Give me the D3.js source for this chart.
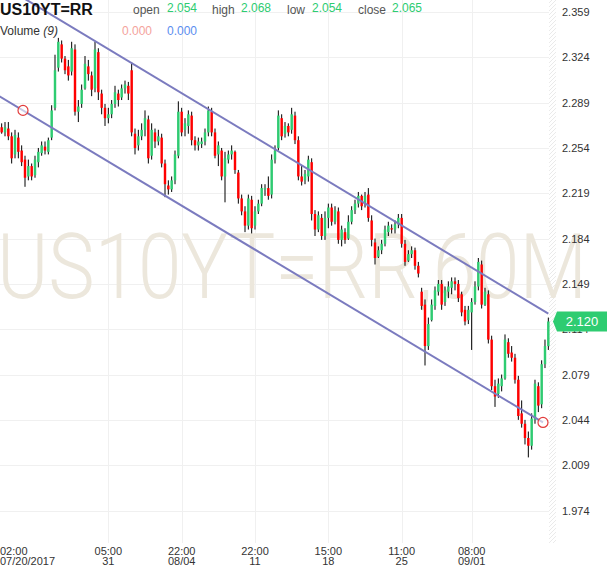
<!DOCTYPE html>
<html>
<head>
<meta charset="utf-8">
<script src="https://cdn.jsdelivr.net/npm/d3@7"></script>
<style>
  body { margin: 0; background: #fff; }
  text { font-family: "Liberation Sans", Arial, sans-serif; }
</style>
</head>
<body>
<svg id="chart" width="610" height="567"></svg>
<script>
// hourly bars
const open = [2.270,2.266,2.269,2.263,2.249,2.262,2.252,2.245,2.232,2.240,2.233,2.243,2.250,2.255,2.251,2.262,2.285,2.316,2.334,2.323,
  2.317,2.313,2.330,2.282,2.288,2.300,2.317,2.310,2.300,2.328,2.296,2.285,2.277,2.280,2.288,2.296,2.293,2.300,2.302,2.314,
  2.265,2.256,2.263,2.268,2.276,2.248,2.266,2.259,2.262,2.242,2.225,2.222,2.229,2.248,2.282,2.268,2.271,2.279,2.260,2.256,
  2.257,2.259,2.266,2.282,2.266,2.249,2.252,2.232,2.245,2.249,2.251,2.235,2.215,2.205,2.194,2.214,2.194,2.205,2.211,2.222,
  2.223,2.218,2.245,2.254,2.277,2.265,2.271,2.268,2.279,2.260,2.232,2.229,2.232,2.243,2.203,2.191,2.200,2.186,2.200,2.208,
  2.197,2.205,2.183,2.189,2.184,2.197,2.206,2.211,2.217,2.211,2.218,2.198,2.181,2.170,2.175,2.180,2.189,2.192,2.191,2.195,
  2.200,2.180,2.167,2.172,2.175,2.163,2.143,2.133,2.101,2.121,2.132,2.143,2.149,2.135,2.143,2.146,2.151,2.149,2.141,2.129,
  2.121,2.127,2.135,2.147,2.164,2.133,2.141,2.106,2.070,2.064,2.070,2.076,2.104,2.096,2.092,2.075,2.049,2.041,2.030,2.024,
  2.044,2.070,2.056,2.087,2.101];
const high = [2.273,2.274,2.274,2.266,2.268,2.266,2.256,2.248,2.245,2.242,2.248,2.254,2.259,2.259,2.262,2.287,2.326,2.339,2.337,2.325,
  2.322,2.336,2.334,2.291,2.303,2.325,2.322,2.313,2.336,2.331,2.299,2.288,2.285,2.291,2.302,2.299,2.303,2.306,2.305,2.320,
  2.269,2.268,2.273,2.283,2.279,2.273,2.269,2.268,2.265,2.245,2.229,2.232,2.252,2.290,2.285,2.277,2.283,2.282,2.263,2.262,
  2.262,2.269,2.286,2.285,2.269,2.259,2.254,2.251,2.252,2.256,2.252,2.237,2.218,2.209,2.218,2.217,2.209,2.214,2.226,2.226,
  2.232,2.249,2.256,2.283,2.280,2.274,2.273,2.285,2.282,2.263,2.240,2.237,2.248,2.246,2.206,2.205,2.203,2.205,2.211,2.211,
  2.209,2.208,2.194,2.192,2.202,2.209,2.214,2.220,2.218,2.220,2.223,2.202,2.184,2.178,2.183,2.194,2.197,2.195,2.198,2.203,
  2.203,2.183,2.175,2.178,2.177,2.166,2.146,2.137,2.123,2.137,2.147,2.152,2.152,2.147,2.151,2.154,2.154,2.152,2.143,2.132,
  2.132,2.138,2.151,2.169,2.167,2.146,2.144,2.109,2.075,2.076,2.079,2.110,2.107,2.101,2.095,2.078,2.059,2.044,2.035,2.049,
  2.075,2.073,2.090,2.106,2.123];
const low = [2.265,2.263,2.260,2.242,2.246,2.246,2.240,2.224,2.229,2.229,2.231,2.239,2.248,2.249,2.249,2.260,2.283,2.313,2.320,2.311,
  2.306,2.310,2.279,2.274,2.285,2.299,2.306,2.294,2.297,2.291,2.280,2.271,2.273,2.277,2.285,2.286,2.291,2.296,2.291,2.263,
  2.249,2.252,2.260,2.263,2.242,2.245,2.254,2.256,2.239,2.216,2.218,2.220,2.226,2.246,2.263,2.263,2.265,2.256,2.252,2.252,
  2.254,2.256,2.263,2.263,2.246,2.240,2.229,2.212,2.242,2.245,2.234,2.211,2.202,2.189,2.191,2.188,2.191,2.203,2.209,2.217,
  2.214,2.215,2.242,2.252,2.260,2.262,2.263,2.265,2.257,2.229,2.225,2.226,2.228,2.198,2.186,2.189,2.183,2.183,2.192,2.194,
  2.195,2.180,2.178,2.180,2.183,2.195,2.203,2.208,2.206,2.208,2.197,2.178,2.164,2.169,2.172,2.178,2.186,2.188,2.188,2.192,
  2.177,2.163,2.166,2.169,2.160,2.154,2.129,2.086,2.098,2.120,2.129,2.140,2.129,2.132,2.138,2.141,2.144,2.135,2.124,2.117,
  2.118,2.098,2.133,2.144,2.130,2.132,2.103,2.067,2.054,2.061,2.066,2.075,2.092,2.089,2.072,2.044,2.038,2.025,2.015,2.021,
  2.041,2.050,2.053,2.084,2.098];
const close = [2.266,2.270,2.263,2.246,2.264,2.251,2.243,2.231,2.240,2.232,2.245,2.251,2.256,2.252,2.260,2.283,2.314,2.336,2.323,2.314,
  2.310,2.331,2.282,2.286,2.299,2.319,2.311,2.299,2.330,2.297,2.285,2.277,2.280,2.288,2.297,2.291,2.300,2.303,2.296,2.266,
  2.254,2.263,2.268,2.277,2.246,2.268,2.259,2.263,2.242,2.226,2.222,2.229,2.249,2.282,2.266,2.273,2.280,2.260,2.256,2.259,
  2.259,2.266,2.283,2.266,2.248,2.256,2.232,2.246,2.249,2.252,2.237,2.215,2.205,2.194,2.215,2.192,2.205,2.211,2.223,2.223,
  2.217,2.245,2.252,2.279,2.263,2.271,2.266,2.280,2.260,2.232,2.228,2.234,2.245,2.203,2.191,2.202,2.186,2.200,2.208,2.197,
  2.206,2.183,2.191,2.183,2.197,2.206,2.211,2.217,2.209,2.217,2.200,2.183,2.169,2.175,2.180,2.191,2.194,2.191,2.195,2.200,
  2.180,2.166,2.172,2.175,2.163,2.157,2.132,2.101,2.118,2.133,2.144,2.149,2.133,2.144,2.147,2.151,2.149,2.138,2.127,2.120,
  2.129,2.135,2.147,2.166,2.133,2.143,2.106,2.070,2.062,2.072,2.076,2.106,2.095,2.092,2.075,2.047,2.041,2.030,2.024,2.045,
  2.072,2.055,2.087,2.101,2.120];

const priceTicks = [2.359, 2.324, 2.289, 2.254, 2.219, 2.184, 2.149, 2.114, 2.079, 2.044, 2.009, 1.974];
const timeTickIdx = [0, 32, 54, 76, 98, 120, 141];
const timeTickTop = ["02:00", "05:00", "22:00", "22:00", "15:00", "11:00", "08:00"];
const timeTickBottom = ["07/20/2017", "31", "08/04", "11", "18", "25", "09/01"];

// trend channel anchors: [bar position, price]
const channelLow = [[6.4, 2.283], [162.4, 2.042]];
const channelHigh = [[6.4, 2.370], [164, 2.126]];

const headerLabels = ["open", "high", "low", "close"];
const headerValues = [2.054, 2.068, 2.054, 2.065];
const lastPrice = 2.120;

const width = 610, height = 567;
const plotW = 549, plotH = 543;
const up = "#2ecc71", down = "#ff0000";

const svg = d3.select("#chart");
const n = close.length;
const bars = d3.range(n).map(i => ({ i, o: open[i], h: high[i], l: low[i], c: close[i] }));

const x = d3.scaleBand().domain(d3.range(n)).range([0, 550]);
const xPos = d3.scaleLinear().domain([0, n]).range([0, 550]);
const y = d3.scaleLinear().domain([1.974, 2.359]).range([510.5, 12]);

// hatch strip next to price axis
const defs = svg.append("defs");
defs.append("pattern")
  .attr("id", "hatch").attr("width", 4).attr("height", 4)
  .attr("patternUnits", "userSpaceOnUse")
  .append("path").attr("d", "M0,4 L4,0 M-1,1 L1,-1 M3,5 L5,3")
  .attr("stroke", "#e4e4e4").attr("stroke-width", 0.8);
svg.append("rect").attr("x", plotW).attr("y", 0).attr("width", 7).attr("height", plotH)
  .attr("fill", "url(#hatch)");

// grid
svg.append("g").selectAll("line").data(priceTicks).join("line")
  .attr("x1", 0).attr("x2", plotW)
  .attr("y1", d => Math.round(y(d)) + 0.5).attr("y2", d => Math.round(y(d)) + 0.5)
  .attr("stroke", "#f0f0f0");
svg.append("g").selectAll("line").data(timeTickIdx.slice(1)).join("line")
  .attr("x1", d => Math.round(x(d) + x.bandwidth() / 2) + 0.5)
  .attr("x2", d => Math.round(x(d) + x.bandwidth() / 2) + 0.5)
  .attr("y1", 0).attr("y2", plotH)
  .attr("stroke", "#f0f0f0");

// watermark
svg.append("text")
  .attr("x", -3).attr("y", 298)
  .attr("textLength", 590).attr("lengthAdjust", "spacingAndGlyphs")
  .style("font-family", "Roboto, 'Liberation Sans', sans-serif")
  .style("font-weight", 300)
  .style("font-size", "91px")
  .attr("fill", "#ece7dc")
  .text("US10YT=RR,60M");

// candles
const candle = svg.append("g").selectAll("g").data(bars).join("g")
  .attr("transform", d => `translate(${x(d.i)},0)`);
candle.append("line")
  .attr("x1", x.bandwidth() / 2).attr("x2", x.bandwidth() / 2)
  .attr("y1", d => y(d.h)).attr("y2", d => y(d.l))
  .attr("stroke", "#000").attr("stroke-width", 1);
candle.append("rect")
  .attr("x", 0.45).attr("width", x.bandwidth() - 0.9)
  .attr("y", d => y(Math.max(d.o, d.c)))
  .attr("height", d => Math.max(1, Math.abs(y(d.o) - y(d.c))))
  .attr("fill", d => d.c >= d.o ? up : down);

// channel lines, extended to the left edge
function extendLeft(pts) {
  const [[i0, p0], [i1, p1]] = pts;
  const k = (p1 - p0) / (i1 - i0);
  const iStart = -1;
  return [[iStart, p0 + k * (iStart - i0)], [i1, p1]];
}
const line = d3.line().x(d => xPos(d[0] + 0.5)).y(d => y(d[1]));
[channelLow, channelHigh].forEach(pts => {
  svg.append("path").datum(extendLeft(pts))
    .attr("d", line)
    .attr("fill", "none")
    .attr("stroke", "#7b7bbf")
    .attr("stroke-width", 2);
});
svg.append("g").selectAll("circle").data(channelLow).join("circle")
  .attr("cx", d => xPos(d[0] + 0.5)).attr("cy", d => y(d[1]))
  .attr("r", 5)
  .attr("fill", "rgba(255,255,255,0.6)")
  .attr("stroke", "#e23b3b").attr("stroke-width", 1.2);

// price axis
svg.append("g").selectAll("text").data(priceTicks).join("text")
  .attr("x", 562).attr("y", d => y(d) + 4)
  .attr("font-size", 11).attr("fill", "#333")
  .text(d => d3.format(".3f")(d));

// last price tag
const yl = y(lastPrice);
svg.append("path")
  .attr("d", `M553,${yl} L557,${yl - 10} L607,${yl - 10} L607,${yl + 10} L557,${yl + 10} Z`)
  .attr("fill", up);
svg.append("text")
  .attr("x", 582).attr("y", yl + 4.5)
  .attr("text-anchor", "middle")
  .attr("font-size", 13).attr("fill", "#fff")
  .text(d3.format(".3f")(lastPrice));

// time axis
const tick = svg.append("g").selectAll("g").data(timeTickIdx).join("g");
tick.each(function(d, k) {
  const g = d3.select(this);
  const cx = x(d) + x.bandwidth() / 2;
  [[timeTickTop[k], 555], [timeTickBottom[k], 565]].forEach(([s, ty]) => {
    const t = g.append("text").attr("y", ty).attr("font-size", 11).attr("fill", "#333").text(s);
    const w = t.node().getComputedTextLength();
    t.attr("x", Math.max(0, cx - w / 2));
  });
});

// header
svg.append("text").attr("x", 0).attr("y", 15)
  .attr("font-size", 16).attr("font-weight", "bold").attr("fill", "#111")
  .text("US10YT=RR");
const labelX = [133, 212, 287, 358];
const valueX = [167, 241, 312, 392];
headerLabels.forEach((s, k) => {
  svg.append("text").attr("x", labelX[k]).attr("y", 14)
    .attr("font-size", 12).attr("fill", "#555").text(s);
  svg.append("text").attr("x", valueX[k]).attr("y", 12)
    .attr("font-size", 12).attr("fill", up).text(d3.format(".3f")(headerValues[k]));
});
const vol = svg.append("text").attr("x", 0).attr("y", 35).attr("font-size", 12).attr("fill", "#333");
vol.append("tspan").text("Volume ");
vol.append("tspan").attr("font-style", "italic").text("(9)");
svg.append("text").attr("x", 122).attr("y", 35).attr("font-size", 12).attr("fill", "#f4a39c").text("0.000");
svg.append("text").attr("x", 167).attr("y", 35).attr("font-size", 12).attr("fill", "#5b8def").text("0.000");
</script>
</body>
</html>
